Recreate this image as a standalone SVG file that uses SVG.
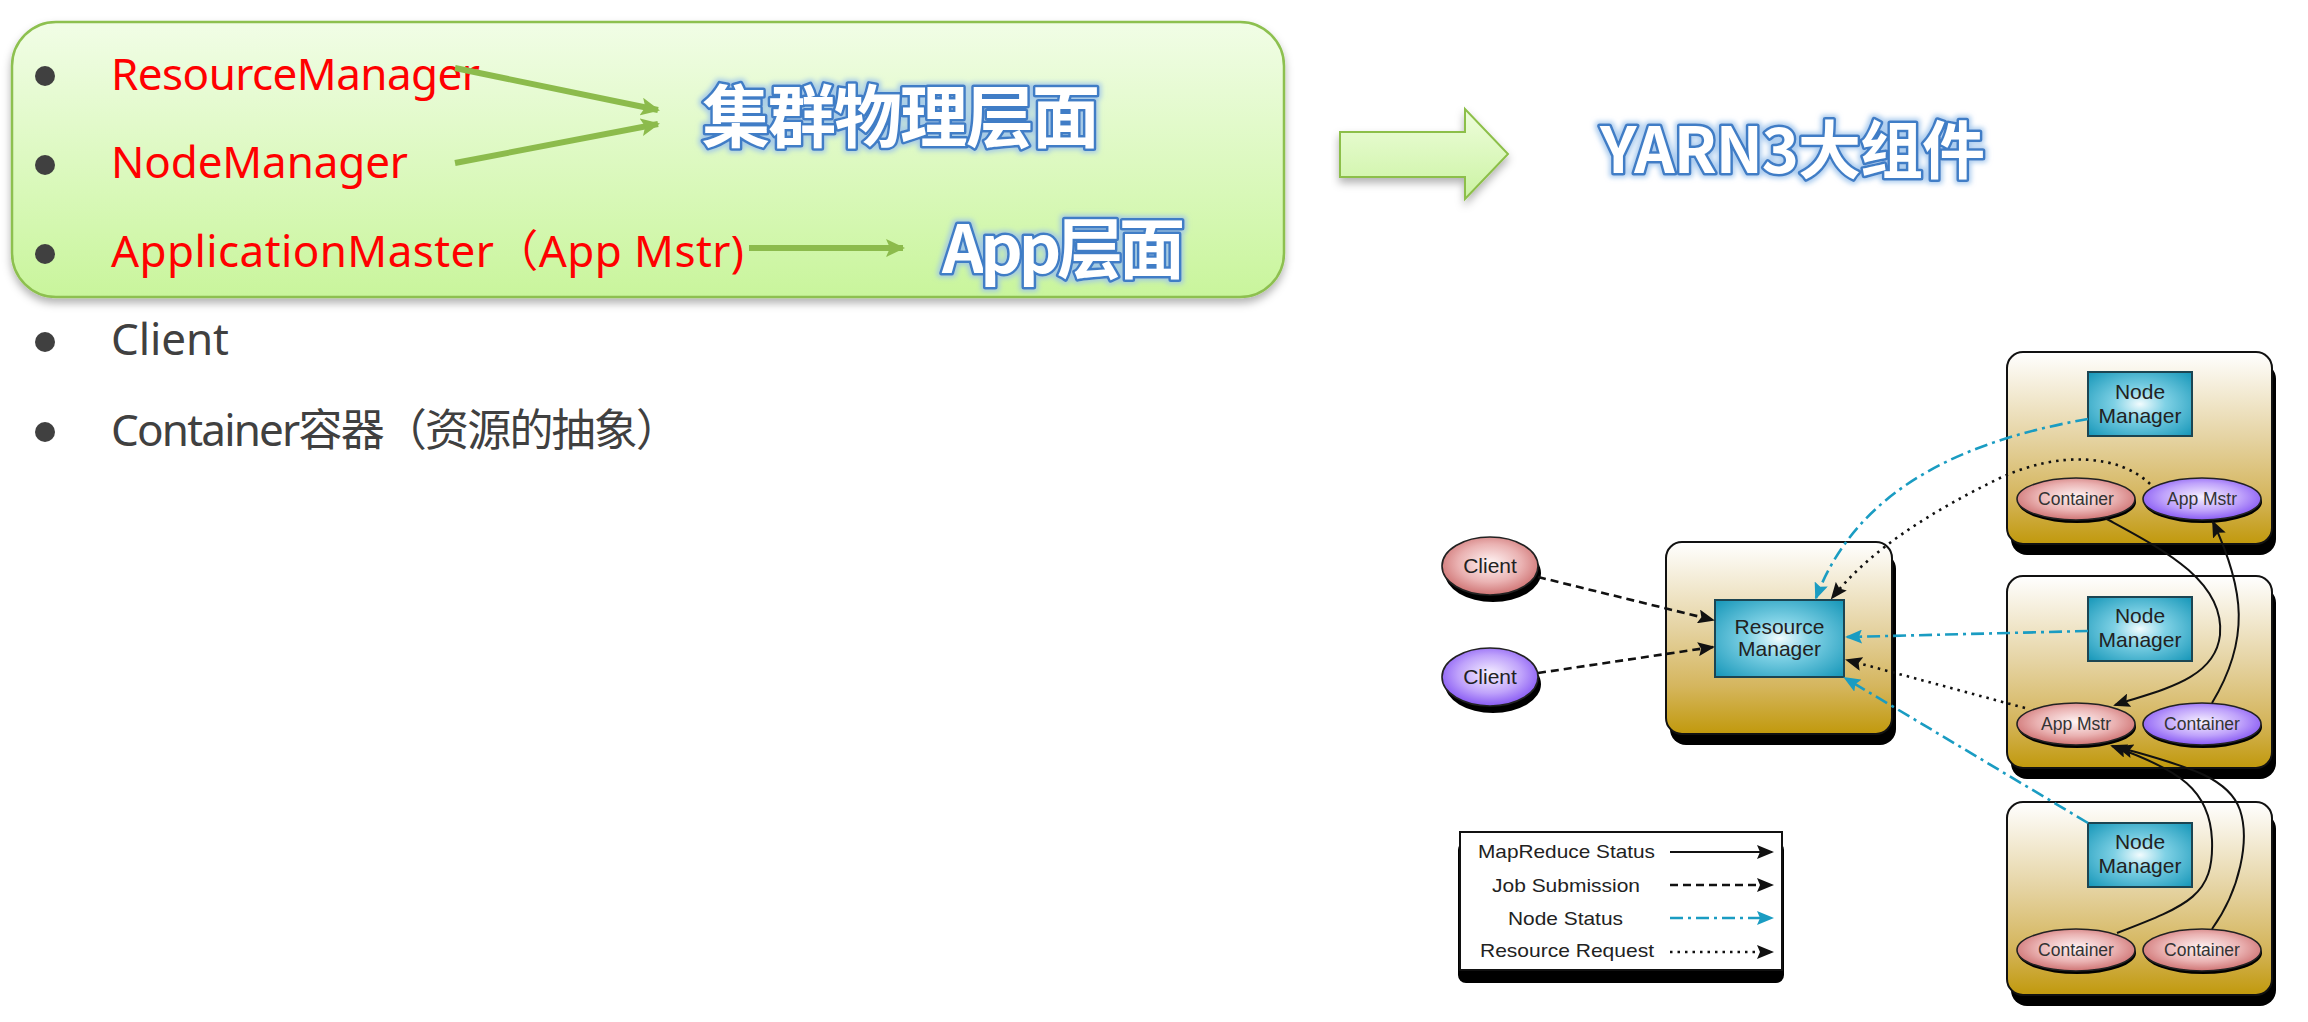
<svg xmlns="http://www.w3.org/2000/svg" width="2308" height="1022" viewBox="0 0 2308 1022">
<defs>
<style>
.bul{fill:#404040}
.txt{font-family:"Noto Sans","Noto Sans CJK SC",sans-serif;font-size:44px}
.red{fill:#ff0000}
.gray{fill:#404040}
.wa{font-family:"Noto Sans CJK SC","Noto Sans",sans-serif;font-weight:700;fill:#ffffff;stroke:#3f7dc6;stroke-width:5;paint-order:stroke fill;stroke-linejoin:round}
.garrow{stroke:#8cbb4c;stroke-width:6;fill:none}
.box{fill:url(#gold);stroke:#111;stroke-width:2}
.shd{fill:#000}
.sq{fill:url(#teal);stroke:#1c4552;stroke-width:2}
.lbl{font-family:"Liberation Sans",Arial,sans-serif;font-size:21px;fill:#222;text-anchor:middle}
.elbl{font-family:"Liberation Sans",Arial,sans-serif;font-size:17.5px;fill:#333;text-anchor:middle}
.leg{font-family:"Liberation Sans",Arial,sans-serif;font-size:19px;fill:#222}
.ell{stroke:#222;stroke-width:1.6}
.solid{stroke:#111;stroke-width:2;fill:none}
.dash{stroke:#111;stroke-width:2.6;stroke-dasharray:8 5;fill:none}
.dot{stroke:#111;stroke-width:2.6;stroke-dasharray:2.5 5;fill:none}
.dd{stroke:#1a9cc2;stroke-width:2.6;stroke-dasharray:13 5 3 5;fill:none}
</style>
<linearGradient id="gbox" x1="0" y1="0" x2="0" y2="1">
<stop offset="0" stop-color="#f1fde6"/>
<stop offset="1" stop-color="#c9f59c"/>
</linearGradient>
<linearGradient id="garr" x1="0" y1="0" x2="0" y2="1">
<stop offset="0" stop-color="#eefddc"/>
<stop offset="1" stop-color="#cbf3a2"/>
</linearGradient>
<linearGradient id="gold" x1="0" y1="0" x2="0" y2="1">
<stop offset="0" stop-color="#ffffff"/>
<stop offset="0.12" stop-color="#f8f3e6"/>
<stop offset="0.45" stop-color="#e5d3a2"/>
<stop offset="0.75" stop-color="#d5b65e"/>
<stop offset="1" stop-color="#c1990c"/>
</linearGradient>
<radialGradient id="teal" cx="0.5" cy="0.5" r="0.7">
<stop offset="0" stop-color="#f2fcfe"/>
<stop offset="0.35" stop-color="#7fd1e5"/>
<stop offset="1" stop-color="#1596b8"/>
</radialGradient>
<radialGradient id="redg" cx="0.5" cy="0.45" r="0.6">
<stop offset="0" stop-color="#fff5f5"/>
<stop offset="0.55" stop-color="#eab2b2"/>
<stop offset="1" stop-color="#c96666"/>
</radialGradient>
<radialGradient id="purg" cx="0.5" cy="0.45" r="0.6">
<stop offset="0" stop-color="#f7f2ff"/>
<stop offset="0.55" stop-color="#bfa2fb"/>
<stop offset="1" stop-color="#7c4af2"/>
</radialGradient>
<filter id="soft" x="-5%" y="-10%" width="110%" height="125%">
<feDropShadow dx="0" dy="5" stdDeviation="4" flood-color="#000" flood-opacity="0.3"/>
</filter>
<filter id="glow" x="-10%" y="-25%" width="120%" height="150%">
<feMorphology in="SourceAlpha" operator="dilate" radius="2" result="d"/>
<feGaussianBlur in="d" stdDeviation="2.5" result="b"/>
<feFlood flood-color="#9cc3ec" flood-opacity="0.85"/>
<feComposite in2="b" operator="in" result="g"/>
<feMerge><feMergeNode in="g"/><feMergeNode in="SourceGraphic"/></feMerge>
</filter>
<marker id="ah" markerUnits="userSpaceOnUse" markerWidth="18" markerHeight="14" refX="15" refY="7" orient="auto">
<path d="M0,0 L17,7 L0,14 L3,7 z" fill="#111"/>
</marker>
<marker id="aht" markerUnits="userSpaceOnUse" markerWidth="18" markerHeight="14" refX="15" refY="7" orient="auto">
<path d="M0,0 L17,7 L0,14 L3,7 z" fill="#1a9cc2"/>
</marker>
<marker id="ahg" markerUnits="userSpaceOnUse" markerWidth="20" markerHeight="18" refX="17" refY="9" orient="auto">
<path d="M0,0 L19,9 L0,18 L4,9 z" fill="#8cbb4c"/>
</marker>
</defs>
<rect width="2308" height="1022" fill="#ffffff"/>

<g id="green-panel">
<rect x="12" y="22" width="1272" height="275" rx="44" fill="url(#gbox)" stroke="#8dc050" stroke-width="2.5" filter="url(#soft)"/>
</g>

<g id="bullets">
<circle class="bul" cx="45" cy="76" r="10"/>
<circle class="bul" cx="45" cy="165" r="10"/>
<circle class="bul" cx="45" cy="254" r="10"/>
<circle class="bul" cx="45" cy="342" r="10"/>
<circle class="bul" cx="45" cy="432" r="10"/>
</g>

<g id="item-rm"><text class="txt red" x="111" y="90" textLength="369">ResourceManager</text></g>
<g id="item-nm"><text class="txt red" x="111" y="178" textLength="297">NodeManager</text></g>
<g id="item-am"><text class="txt red" x="111" y="267" textLength="633">ApplicationMaster（App Mstr)</text></g>
<g id="item-client"><text class="txt gray" x="111" y="355" textLength="118">Client</text></g>
<g id="item-container"><text class="txt gray" x="111" y="446" textLength="569">Container容器（资源的抽象）</text></g>

<g id="label-cluster"><text class="wa" x="702" y="142" font-size="68" textLength="398" filter="url(#glow)">集群物理层面</text></g>
<g id="label-app"><text class="wa" x="942" y="273" font-size="66" textLength="243" filter="url(#glow)">App层面</text></g>

<g id="green-arrows">
<line class="garrow" x1="455" y1="68" x2="658" y2="110" marker-end="url(#ahg)"/>
<line class="garrow" x1="455" y1="163" x2="658" y2="124" marker-end="url(#ahg)"/>
<line class="garrow" x1="749" y1="248" x2="903" y2="248" marker-end="url(#ahg)"/>
</g>

<g id="block-arrow">
<polygon points="1340,132 1465,132 1465,109 1508,154 1465,199 1465,177 1340,177" fill="url(#garr)" stroke="#8cbf48" stroke-width="2" filter="url(#soft)"/>
</g>

<g id="title"><text class="wa" x="1600" y="173" font-size="63" textLength="385" filter="url(#glow)">YARN3大组件</text></g>

<g id="client1">
<ellipse class="shd" cx="1493" cy="573" rx="48" ry="29"/>
<ellipse class="ell" cx="1490" cy="566" rx="48" ry="29" fill="url(#redg)" stroke-width="2"/>
<text class="lbl" x="1490" y="573">Client</text>
</g>
<g id="client2">
<ellipse class="shd" cx="1493" cy="684" rx="48" ry="29"/>
<ellipse class="ell" cx="1490" cy="677" rx="48" ry="29" fill="url(#purg)" stroke-width="2"/>
<text class="lbl" x="1490" y="684">Client</text>
</g>

<g id="resource-manager">
<rect class="shd" x="1670" y="553" width="226" height="192" rx="16"/>
<rect class="box" x="1666" y="542" width="226" height="192" rx="16"/>
<rect class="sq" x="1715" y="600" width="129" height="77"/>
<text class="lbl" x="1779.5" y="634">Resource</text>
<text class="lbl" x="1779.5" y="656">Manager</text>
</g>

<g id="node1">
<rect class="shd" x="2011" y="363" width="265" height="192" rx="16"/>
<rect class="box" x="2007" y="352" width="265" height="192" rx="16"/>
<rect class="sq" x="2088" y="372" width="104" height="64"/>
<text class="lbl" x="2140" y="399">Node</text>
<text class="lbl" x="2140" y="423">Manager</text>
<ellipse class="shd" cx="2077" cy="502" rx="59" ry="21"/>
<ellipse class="ell" cx="2076" cy="499" rx="59" ry="21" fill="url(#redg)"/>
<text class="elbl" x="2076" y="505">Container</text>
<ellipse class="shd" cx="2203" cy="502" rx="59" ry="21"/>
<ellipse class="ell" cx="2202" cy="499" rx="59" ry="21" fill="url(#purg)"/>
<text class="elbl" x="2202" y="505">App Mstr</text>
</g>

<g id="node2">
<rect class="shd" x="2011" y="587" width="265" height="192" rx="16"/>
<rect class="box" x="2007" y="576" width="265" height="192" rx="16"/>
<rect class="sq" x="2088" y="597" width="104" height="64"/>
<text class="lbl" x="2140" y="623">Node</text>
<text class="lbl" x="2140" y="647">Manager</text>
<ellipse class="shd" cx="2077" cy="727" rx="59" ry="21"/>
<ellipse class="ell" cx="2076" cy="724" rx="59" ry="21" fill="url(#redg)"/>
<text class="elbl" x="2076" y="730">App Mstr</text>
<ellipse class="shd" cx="2203" cy="727" rx="59" ry="21"/>
<ellipse class="ell" cx="2202" cy="724" rx="59" ry="21" fill="url(#purg)"/>
<text class="elbl" x="2202" y="730">Container</text>
</g>

<g id="node3">
<rect class="shd" x="2011" y="813" width="265" height="193" rx="16"/>
<rect class="box" x="2007" y="802" width="265" height="193" rx="16"/>
<rect class="sq" x="2088" y="823" width="104" height="64"/>
<text class="lbl" x="2140" y="849">Node</text>
<text class="lbl" x="2140" y="873">Manager</text>
<ellipse class="shd" cx="2077" cy="953" rx="59" ry="21"/>
<ellipse class="ell" cx="2076" cy="950" rx="59" ry="21" fill="url(#redg)"/>
<text class="elbl" x="2076" y="956">Container</text>
<ellipse class="shd" cx="2203" cy="953" rx="59" ry="21"/>
<ellipse class="ell" cx="2202" cy="950" rx="59" ry="21" fill="url(#redg)"/>
<text class="elbl" x="2202" y="956">Container</text>
</g>

<g id="connectors">
<line class="dash" x1="1538" y1="577" x2="1713" y2="620" marker-end="url(#ah)"/>
<line class="dash" x1="1538" y1="673" x2="1713" y2="647" marker-end="url(#ah)"/>
<path class="dd" d="M2088,419 C1980,438 1860,480 1816,598" marker-end="url(#aht)"/>
<path class="dot" d="M2150,484 C2120,455 2060,450 2000,478 C1930,512 1870,550 1832,598" marker-end="url(#ah)"/>
<line class="dd" x1="2088" y1="631" x2="1847" y2="637" marker-end="url(#aht)"/>
<line class="dot" x1="2025" y1="708" x2="1847" y2="660" marker-end="url(#ah)"/>
<line class="dd" x1="2088" y1="823" x2="1845" y2="678" marker-end="url(#aht)"/>
<path class="solid" d="M2105,518 C2160,548 2225,580 2220,635 C2215,680 2160,690 2115,705" marker-end="url(#ah)"/>
<path class="solid" d="M2212,703 C2250,640 2245,590 2213,522" marker-end="url(#ah)"/>
<path class="solid" d="M2117,933 C2190,905 2214,895 2212,840 C2210,790 2180,770 2112,746" marker-end="url(#ah)"/>
<path class="solid" d="M2212,929 C2240,890 2250,840 2240,810 C2228,775 2180,765 2118,747" marker-end="url(#ah)"/>
</g>

<g id="legend">
<rect class="shd" x="1458" y="842" width="326" height="141" rx="8"/>
<rect x="1460" y="832" width="322" height="138" fill="#ffffff" stroke="#111" stroke-width="2"/>
<text class="leg" x="1478" y="858" textLength="177" lengthAdjust="spacingAndGlyphs">MapReduce Status</text>
<text class="leg" x="1492" y="892" textLength="148" lengthAdjust="spacingAndGlyphs">Job Submission</text>
<text class="leg" x="1508" y="925" textLength="115" lengthAdjust="spacingAndGlyphs">Node Status</text>
<text class="leg" x="1480" y="957" textLength="174" lengthAdjust="spacingAndGlyphs">Resource Request</text>
<line class="solid" x1="1670" y1="852" x2="1772" y2="852" marker-end="url(#ah)"/>
<line class="dash" x1="1670" y1="885" x2="1772" y2="885" marker-end="url(#ah)"/>
<line class="dd" x1="1670" y1="918" x2="1772" y2="918" marker-end="url(#aht)"/>
<line class="dot" x1="1670" y1="952" x2="1772" y2="952" marker-end="url(#ah)"/>
</g>
</svg>
